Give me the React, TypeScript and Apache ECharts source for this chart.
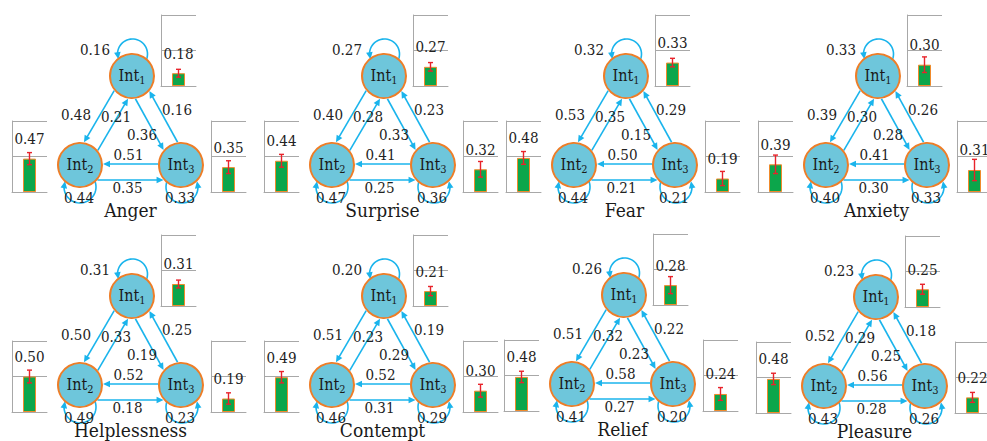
import React, { useEffect, useRef } from "react";
import * as echarts from "echarts";

// ---------------- data ----------------
const emotions = ["Anger", "Surprise", "Fear", "Anxiety", "Helplessness", "Contempt", "Relief", "Pleasure"];
const intensityLevels = ["1", "2", "3"];

// transition probabilities: row = from Int_i, column = to Int_j
const angerP = [[0.16, 0.48, 0.36], [0.21, 0.44, 0.35], [0.16, 0.51, 0.33]];
const surpriseP = [[0.27, 0.40, 0.33], [0.28, 0.47, 0.25], [0.23, 0.41, 0.36]];
const fearP = [[0.32, 0.53, 0.15], [0.35, 0.44, 0.21], [0.29, 0.50, 0.21]];
const anxietyP = [[0.33, 0.39, 0.28], [0.30, 0.40, 0.30], [0.26, 0.41, 0.33]];
const helplessnessP = [[0.31, 0.50, 0.19], [0.33, 0.49, 0.18], [0.25, 0.52, 0.23]];
const contemptP = [[0.20, 0.51, 0.29], [0.23, 0.46, 0.31], [0.19, 0.52, 0.29]];
const reliefP = [[0.26, 0.51, 0.23], [0.32, 0.41, 0.27], [0.22, 0.58, 0.20]];
const pleasureP = [[0.23, 0.52, 0.25], [0.29, 0.43, 0.28], [0.18, 0.56, 0.26]];

// bar values (Int1, Int2, Int3) and their error half-widths
const angerShare = [0.18, 0.47, 0.35];
const surpriseShare = [0.27, 0.44, 0.32];
const fearShare = [0.33, 0.48, 0.19];
const anxietyShare = [0.30, 0.39, 0.31];
const helplessnessShare = [0.31, 0.50, 0.19];
const contemptShare = [0.21, 0.49, 0.30];
const reliefShare = [0.28, 0.48, 0.24];
const pleasureShare = [0.25, 0.48, 0.22];

const angerErr = [0.055, 0.085, 0.09];
const surpriseErr = [0.06, 0.09, 0.11];
const fearErr = [0.06, 0.09, 0.10];
const anxietyErr = [0.11, 0.13, 0.15];
const helplessnessErr = [0.055, 0.09, 0.08];
const contemptErr = [0.065, 0.08, 0.09];
const reliefErr = [0.12, 0.08, 0.09];
const pleasureErr = [0.07, 0.08, 0.07];

const transitions = [angerP, surpriseP, fearP, anxietyP, helplessnessP, contemptP, reliefP, pleasureP];
const shares = [angerShare, surpriseShare, fearShare, anxietyShare, helplessnessShare, contemptShare, reliefShare, pleasureShare];
const errors = [angerErr, surpriseErr, fearErr, anxietyErr, helplessnessErr, contemptErr, reliefErr, pleasureErr];

// ---------------- layout / style ----------------
const W = 987;
const H = 441;
const panelAnchors = [
  [132, 76], [384, 76], [626, 76], [878, 76],
  [132, 296], [384, 296], [624, 295], [876, 297],
];
const nodeOffsets = [[0, 0], [-52, 89], [49, 89]];
const ATTACH_R = 23;
const ARROW_L = 7;
const ARROW_W = 3.3;
const miniBox = [[29, -61], [-68, -44], [30, -44]];
const MINI_W = 35;
const MINI_H = 71;

const NODE_FILL = "#6EC6DB";
const NODE_BORDER = "#EE7D27";
const EDGE = "#1AB4EC";
const BAR = "#0CA64B";
const BAR_BORDER = "#F08A2B";
const ERR = "#E8232B";
const AXIS = "#A8A8A8";
const TXT = "#222222";
const FONT = "DejaVu Serif Condensed, DejaVu Serif";
const NUM_SIZE = 15;

// label anchor: [reference (0..2 node, 3 = midpoint of Int2/Int3), dx, dy]
const edgeLabelRef: Record<string, number[]> = {
  "0-0": [0, -37, -26], "0-1": [0, -56, 39], "0-2": [0, 10, 59],
  "1-0": [0, -16, 41], "1-1": [1, -1, 33], "1-2": [3, -3, 23],
  "2-0": [0, 45, 34], "2-1": [3, -2, -10], "2-2": [2, -1, 33],
};
const loopGeom = [
  { cx: 0.5, cy: -22, r: 15, a0: 20, a1: -200 },
  { cx: 0, cy: 22, r: 16, a0: -21, a1: 201 },
  { cx: 1, cy: 22, r: 16, a0: 201, a1: -21 },
];

function nodePos(p: number, s: number) {
  const a = panelAnchors[p];
  const o = nodeOffsets[s];
  return [a[0] + o[0], a[1] + o[1]];
}
function edgeOffset(f: number, t: number) {
  if (f === 1 && t === 2) return 15;
  if (f === 2 && t === 1) return 1;
  return 8;
}
function arrowHead(tip: number[], d: number[]) {
  const bx = tip[0] - d[0] * ARROW_L;
  const by = tip[1] - d[1] * ARROW_L;
  const px = -d[1] * ARROW_W;
  const py = d[0] * ARROW_W;
  return [[tip[0], tip[1]], [bx + px, by + py], [bx - px, by - py]];
}

function renderEdge(params: any, api: any) {
  const p = api.value(0);
  const f = api.value(1);
  const t = api.value(2);
  const v = api.value(3);
  const A = api.coord(nodePos(p, f));
  const B = api.coord(nodePos(p, t));
  const children: any[] = [];
  if (f === t) {
    const g = loopGeom[f];
    const c = [A[0] + g.cx, A[1] + g.cy];
    const sign = g.a1 > g.a0 ? 1 : -1;
    const tipA = (g.a1 * Math.PI) / 180;
    const baseA = tipA - (sign * (ARROW_L - 1)) / g.r;
    const a0 = (g.a0 * Math.PI) / 180;
    const pts: number[][] = [];
    const n = 30;
    for (let i = 0; i <= n; i++) {
      const a = a0 + ((baseA - a0) * i) / n;
      pts.push([c[0] + g.r * Math.cos(a), c[1] + g.r * Math.sin(a)]);
    }
    const tip = [c[0] + g.r * Math.cos(tipA), c[1] + g.r * Math.sin(tipA)];
    const base = pts[pts.length - 1];
    const L = Math.hypot(tip[0] - base[0], tip[1] - base[1]);
    const d = [(tip[0] - base[0]) / L, (tip[1] - base[1]) / L];
    children.push({ type: "polyline", shape: { points: pts }, style: { stroke: EDGE, lineWidth: 1.6, fill: null } });
    children.push({ type: "polygon", shape: { points: arrowHead(tip, d) }, style: { fill: EDGE } });
  } else {
    const dx = B[0] - A[0];
    const dy = B[1] - A[1];
    const L = Math.hypot(dx, dy);
    const d = [dx / L, dy / L];
    const rt = [-d[1], d[0]];
    const o = edgeOffset(f, t);
    const k = Math.sqrt(ATTACH_R * ATTACH_R - o * o);
    const s = [A[0] + rt[0] * o + d[0] * k, A[1] + rt[1] * o + d[1] * k];
    const e = [A[0] + rt[0] * o + d[0] * (L - k), A[1] + rt[1] * o + d[1] * (L - k)];
    const b = [e[0] - d[0] * (ARROW_L - 1), e[1] - d[1] * (ARROW_L - 1)];
    children.push({ type: "line", shape: { x1: s[0], y1: s[1], x2: b[0], y2: b[1] }, style: { stroke: EDGE, lineWidth: 1.6 } });
    children.push({ type: "polygon", shape: { points: arrowHead(e, d) }, style: { fill: EDGE } });
  }
  const ref = edgeLabelRef[f + "-" + t];
  let anchor: number[];
  if (ref[0] === 3) {
    const n2 = nodePos(p, 1);
    const n3 = nodePos(p, 2);
    anchor = [(n2[0] + n3[0]) / 2, (n2[1] + n3[1]) / 2];
  } else {
    anchor = nodePos(p, ref[0]);
  }
  const lp = api.coord([anchor[0] + ref[1], anchor[1] + ref[2]]);
  children.push({
    type: "text",
    style: {
      text: v.toFixed(2), x: lp[0], y: lp[1],
      align: "center", verticalAlign: "middle", textAlign: "center", textVerticalAlign: "middle",
      fontSize: NUM_SIZE, fontFamily: FONT, fill: TXT,
    },
  });
  return { type: "group", children };
}

function renderErr(params: any, api: any) {
  const lo = api.coord([api.value(0), api.value(1)]);
  const hi = api.coord([api.value(0), api.value(2)]);
  const x = lo[0];
  const st = { stroke: ERR, lineWidth: 1.4 };
  return {
    type: "group",
    children: [
      { type: "line", shape: { x1: x, y1: lo[1], x2: x, y2: hi[1] }, style: st },
      { type: "line", shape: { x1: x - 2.5, y1: hi[1], x2: x + 2.5, y2: hi[1] }, style: st },
      { type: "line", shape: { x1: x - 2.5, y1: lo[1], x2: x + 2.5, y2: lo[1] }, style: st },
    ],
  };
}

function buildOption() {
  const grid: any[] = [{ left: 0, top: 0, width: W, height: H, outerBoundsMode: "none" }];
  const xAxis: any[] = [{ type: "value", gridIndex: 0, min: 0, max: W, show: false }];
  const yAxis: any[] = [{ type: "value", gridIndex: 0, min: 0, max: H, inverse: true, show: false }];
  const series: any[] = [];

  const edgeData: number[][] = [];
  transitions.forEach((m, p) => {
    m.forEach((row, f) => row.forEach((v, t) => edgeData.push([p, f, t, v])));
  });
  series.push({
    type: "custom", xAxisIndex: 0, yAxisIndex: 0, data: edgeData, renderItem: renderEdge,
    clip: false, silent: true, z: 2,
  });

  const nodeData: any[] = [];
  emotions.forEach((_, p) => {
    intensityLevels.forEach((lvl, s) => {
      const pos = nodePos(p, s);
      nodeData.push([pos[0], pos[1], lvl]);
    });
  });
  series.push({
    type: "scatter", xAxisIndex: 0, yAxisIndex: 0, data: nodeData, symbol: "circle", symbolSize: 44,
    itemStyle: { color: NODE_FILL, borderColor: NODE_BORDER, borderWidth: 2, opacity: 1 },
    label: {
      show: true, position: "inside", offset: [0, -1],
      formatter: (pr: any) => `{n|Int}{s|${pr.data[2]}}`,
      rich: {
        n: { fontSize: 16, fontFamily: FONT, color: "#1a1a1a", lineHeight: 21 },
        s: { fontSize: 11, fontFamily: FONT, color: "#1a1a1a", lineHeight: 11, verticalAlign: "bottom" },
      },
    },
    silent: true, z: 5,
  });

  emotions.forEach((_, p) => {
    intensityLevels.forEach((lvl, s) => {
      const gi = 1 + p * 3 + s;
      const n = nodePos(p, s);
      const box = miniBox[s];
      grid.push({ left: n[0] + box[0], top: n[1] + box[1], width: MINI_W, height: MINI_H, outerBoundsMode: "none" });
      xAxis.push({
        type: "category", gridIndex: gi, data: ["Int" + lvl],
        axisLine: { show: true, lineStyle: { color: AXIS, width: 1 } },
        axisTick: { show: false }, axisLabel: { show: false }, splitLine: { show: false },
      });
      yAxis.push({
        type: "value", gridIndex: gi, min: 0, max: 1, interval: 0.5,
        axisLine: { show: true, lineStyle: { color: AXIS, width: 1 } },
        axisTick: { show: false }, axisLabel: { show: false },
        splitLine: { show: true, lineStyle: { color: AXIS, width: 1 } },
      });
      const v = shares[p][s];
      const e = errors[p][s];
      series.push({
        type: "bar", xAxisIndex: gi, yAxisIndex: gi, data: [v], barWidth: 13,
        itemStyle: { color: BAR, borderColor: BAR_BORDER, borderWidth: 1 },
        label: {
          show: true, position: "top", distance: 12,
          formatter: (pr: any) => Number(pr.value).toFixed(2),
          fontSize: NUM_SIZE, fontFamily: FONT, color: TXT,
        },
        silent: true, z: 3,
      });
      series.push({
        type: "custom", xAxisIndex: gi, yAxisIndex: gi, data: [[0, v - e, v + e]],
        encode: { x: 0, y: [1, 2] }, renderItem: renderErr, clip: false, silent: true, z: 4,
      });
    });
  });

  const graphic = emotions.map((name, p) => {
    const n2 = nodePos(p, 1);
    const n3 = nodePos(p, 2);
    return {
      type: "text", x: (n2[0] + n3[0]) / 2, y: n2[1] + 45, z: 10, silent: true,
      style: {
        text: name, fontSize: 19, fontFamily: FONT, fill: "#1a1a1a",
        align: "center", verticalAlign: "middle", textAlign: "center", textVerticalAlign: "middle",
      },
    };
  });

  return {
    animation: false,
    backgroundColor: "#ffffff",
    grid, xAxis, yAxis, series, graphic,
  };
}

export default function App() {
  const ref = useRef<HTMLDivElement>(null);
  useEffect(() => {
    document.body.style.margin = "0";
    if (!ref.current) return;
    const chart = echarts.init(ref.current, null, { renderer: "svg" });
    chart.setOption(buildOption() as any);
    return () => chart.dispose();
  }, []);
  return <div ref={ref} style={{ width: W, height: H, position: "absolute", left: 0, top: 0 }} />;
}
